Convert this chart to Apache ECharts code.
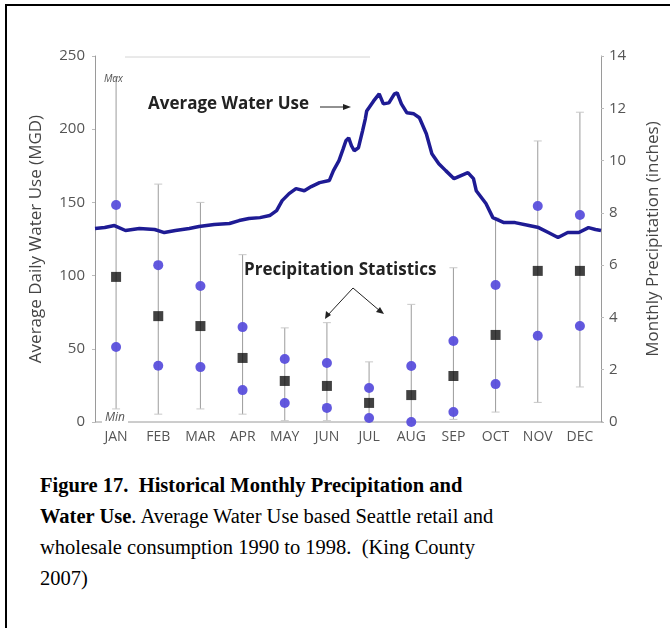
<!DOCTYPE html>
<html>
<head>
<meta charset="utf-8">
<script src="https://cdn.jsdelivr.net/npm/echarts@6/dist/echarts.min.js"></script>
<style>
  html, body { margin: 0; padding: 0; background: #fff; }
  #wrap { position: relative; width: 670px; height: 628px; overflow: hidden; }
  #chart { position: absolute; left: 0; top: 0; width: 670px; height: 460px; }
  #frame { position: absolute; left: 5px; top: 4px; width: 700px; height: 700px;
           border-left: 2px solid #000; border-top: 2px solid #000; }
  #caption { position: absolute; left: 40px; top: 470px; width: 620px; white-space: nowrap;
             font-family: "Liberation Serif", "DejaVu Serif", serif; font-size: 20.5px;
             line-height: 31px; color: #000; }
</style>
</head>
<body>
<div id="wrap">
  <div id="frame"></div>
  <div id="chart"></div>
  <div id="caption"><b>Figure 17.&nbsp; Historical Monthly Precipitation and<br>Water Use</b>. Average Water Use based Seattle retail and<br>wholesale consumption 1990 to 1998.&nbsp; (King County<br>2007)</div>
</div>
<script>
// months on the category axis
const months = ['JAN', 'FEB', 'MAR', 'APR', 'MAY', 'JUN', 'JUL', 'AUG', 'SEP', 'OCT', 'NOV', 'DEC'];

// precipitation statistics (inches)
const precipMax   = [13.2, 9.1, 8.4, 6.4, 3.6, 3.8, 2.3, 4.5, 5.9, 7.8, 10.75, 11.85];
const precipMin   = [0.5, 0.3, 0.5, 0.3, 0.05, 0.05, 0.0, 0.0, 0.1, 0.38, 0.75, 1.34];
const precipUpper = [8.3, 6.0, 5.2, 3.63, 2.41, 2.26, 1.3, 2.14, 3.1, 5.24, 8.26, 7.92];
const precipMean  = [5.55, 4.05, 3.67, 2.45, 1.57, 1.38, 0.73, 1.03, 1.76, 3.33, 5.78, 5.78];
const precipLower = [2.87, 2.15, 2.1, 1.22, 0.73, 0.54, 0.15, 0.0, 0.38, 1.45, 3.3, 3.67];

// average daily water use (MGD) by day of year
const waterDay = [0, 7, 14, 22, 32, 43, 50, 58, 68, 75, 86, 97, 104, 111, 119, 126, 131, 135, 140, 145,
  151, 156, 162, 169, 172, 176, 179, 181, 183, 185, 187, 190, 193, 195, 196, 199, 201, 205, 208, 212,
  216, 218, 221, 225, 230, 234, 239, 243, 248, 253, 259, 264, 269, 273, 275, 282, 287, 295, 303, 313,
  320, 327, 334, 341, 349, 356, 361, 365];
const waterUse = [132.2, 132.8, 134.2, 130.8, 132.2, 131.5, 129.4, 130.8, 132.2, 133.5, 134.9, 135.6, 137.6, 139.0, 139.6, 141.0, 144.4, 151.2, 156.0, 159.4,
  158.0, 160.8, 163.5, 164.9, 171.7, 178.5, 186.6, 192.1, 194.1, 188.7, 185.3, 187.3, 198.9, 207.1, 212.5, 216.6, 219.3, 224.1, 217.3, 218.0,
  224.1, 224.8, 217.3, 211.2, 210.5, 207.8, 196.9, 183.2, 176.4, 171.7, 166.2, 168.3, 170.3, 166.2, 158.0, 149.2, 139.6, 136.2, 136.2, 134.2,
  132.8, 129.4, 126.0, 129.4, 129.4, 132.8, 131.5, 130.8];

const chart = echarts.init(document.getElementById('chart'));

const labelFont = '"Open Sans", "DejaVu Sans", sans-serif';
const grayAxis = { lineStyle: { color: '#9a9a9a', width: 1 } };

const rangeData = months.map((m, i) => [i, precipMin[i], precipMax[i]]);

function renderRange(params, api) {
  const top = api.coord([api.value(0), api.value(2)]);
  const bot = api.coord([api.value(0), api.value(1)]);
  const style = { stroke: '#9c9c9c', lineWidth: 1 };
  return {
    type: 'group',
    children: [
      { type: 'line', shape: { x1: top[0], y1: top[1], x2: bot[0], y2: bot[1] }, style },
      { type: 'line', shape: { x1: top[0] - 4, y1: top[1], x2: top[0] + 4, y2: top[1] }, style: { stroke: '#c8c8c8', lineWidth: 1 } },
      { type: 'line', shape: { x1: bot[0] - 4, y1: bot[1], x2: bot[0] + 4, y2: bot[1] }, style: { stroke: '#c8c8c8', lineWidth: 1 } }
    ]
  };
}

const option = {
  animation: false,
  grid: { left: 95, right: 67, top: 56, bottom: 38 },
  xAxis: [
    {
      type: 'category',
      data: months,
      boundaryGap: true,
      axisLine: { show: false },
      axisTick: { show: false },
      axisLabel: { color: '#555', fontFamily: labelFont, fontSize: 14, margin: 8 }
    },
    { type: 'value', min: 0, max: 365, show: false }
  ],
  yAxis: [
    {
      type: 'value',
      min: 0, max: 250, interval: 50,
      name: 'Average Daily Water Use (MGD)',
      nameLocation: 'middle',
      nameGap: 50,
      nameTextStyle: { color: '#444', fontFamily: labelFont, fontSize: 17 },
      axisLine: { show: true, ...grayAxis },
      axisTick: { show: true, length: 3, lineStyle: { color: '#bbb' } },
      axisLabel: { color: '#555', fontFamily: labelFont, fontSize: 15, margin: 10 },
      splitLine: { show: false }
    },
    {
      type: 'value',
      min: 0, max: 14, interval: 2,
      position: 'right',
      name: 'Monthly Precipitation (inches)',
      nameLocation: 'middle',
      nameGap: 44,
      nameRotate: 90,
      nameTextStyle: { color: '#444', fontFamily: labelFont, fontSize: 17 },
      axisLine: { show: true, ...grayAxis },
      axisTick: { show: true, length: 3, lineStyle: { color: '#bbb' } },
      axisLabel: { color: '#555', fontFamily: labelFont, fontSize: 15, margin: 8 },
      splitLine: { show: false }
    }
  ],
  series: [
    {
      type: 'custom',
      xAxisIndex: 0, yAxisIndex: 1,
      renderItem: renderRange,
      data: rangeData,
      z: 1
    },
    {
      type: 'scatter',
      xAxisIndex: 0, yAxisIndex: 1,
      symbol: 'circle', symbolSize: 10,
      itemStyle: { color: '#5a4fdc', opacity: 0.95 },
      data: precipUpper.map((v, i) => [i, v]),
      z: 3
    },
    {
      type: 'scatter',
      xAxisIndex: 0, yAxisIndex: 1,
      symbol: 'circle', symbolSize: 10,
      itemStyle: { color: '#5a4fdc', opacity: 0.95 },
      data: precipLower.map((v, i) => [i, v]),
      z: 3
    },
    {
      type: 'scatter',
      xAxisIndex: 0, yAxisIndex: 1,
      symbol: 'rect', symbolSize: 10,
      itemStyle: { color: '#111' },
      data: precipMean.map((v, i) => [i, v]),
      z: 4
    },
    {
      type: 'line',
      xAxisIndex: 1, yAxisIndex: 0,
      showSymbol: false,
      lineStyle: { color: '#1e1b94', width: 3.5 },
      data: waterDay.map((d, i) => [d, waterUse[i]]),
      z: 5
    }
  ],
  graphic: [
    // x axis line, starting after the "Min" label
    { type: 'line', shape: { x1: 95, y1: 422, x2: 603, y2: 422 }, style: { stroke: '#9a9a9a', lineWidth: 1 }, z: 0 },
    // faint top rule
    { type: 'line', shape: { x1: 125, y1: 57, x2: 370, y2: 57 }, style: { stroke: '#d4d4d4', lineWidth: 1 }, z: 0 },
    { type: 'text', left: 104, top: 74, style: { text: 'Max', font: 'italic 10px ' + labelFont, fill: '#555' }, z: 10 },
    { type: 'text', left: 102, top: 412, style: { text: 'Min', font: 'italic 12px ' + labelFont, fill: '#555', backgroundColor: '#fff', padding: [0, 3, 0, 3] }, z: 10 },
    { type: 'text', left: 148, top: 96, style: { text: 'Average Water Use', font: 'bold 17px ' + labelFont, fill: '#222' }, z: 10 },
    { type: 'line', shape: { x1: 320, y1: 107, x2: 345, y2: 107 }, style: { stroke: '#222', lineWidth: 1 }, z: 10 },
    { type: 'polygon', shape: { points: [[351, 107], [343, 104], [343, 110]] }, style: { fill: '#222' }, z: 10 },
    { type: 'text', left: 244, top: 262, style: { text: 'Precipitation Statistics', font: 'bold 17px ' + labelFont, fill: '#222' }, z: 10 },
    { type: 'polyline', shape: { points: [[327, 316], [353, 288], [380, 311]] }, style: { stroke: '#222', lineWidth: 1, fill: null }, z: 10 },
    { type: 'polygon', shape: { points: [[325, 319], [326, 311], [331, 315]] }, style: { fill: '#222' }, z: 10 },
    { type: 'polygon', shape: { points: [[384, 314], [376, 312], [380, 307]] }, style: { fill: '#222' }, z: 10 }
  ]
};

chart.setOption(option);
</script>
</body>
</html>
